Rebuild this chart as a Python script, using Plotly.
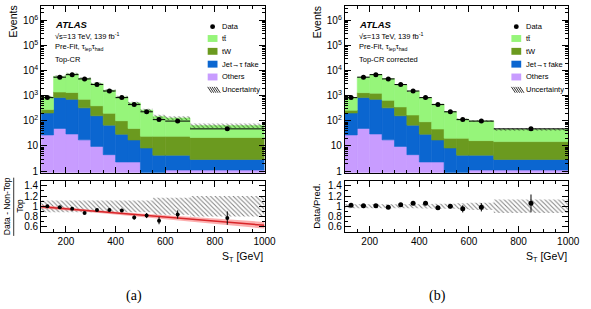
import numpy as np
import plotly.graph_objects as go

W, H = 591, 309

# ---------------- data ----------------
bin_edges = [100, 150, 200, 250, 300, 350, 400, 450, 500, 550, 600, 700, 1000]
data_counts = [845, 5500, 6950, 4700, 2800, 1550, 845, 445, 230, 112, 98, 48]
data_err = [29, 74, 83, 69, 53, 39, 29, 21, 15, 11, 10, 7]
others = [27.5, 50, 30, 17.5, 9.6, 4.5, 2.3, 2.3, 0.8, 0.8, 1.1, 1.1]
fake = [178, 795, 690, 312, 150, 63, 27, 15, 7.5, 3.5, 3.2, 1.8]
tw_prefit = [75, 565, 630, 390, 240, 132, 72, 32, 16, 20, 20, 19]
tt_prefit = [620, 4490, 6050, 4180, 2600, 1440, 798, 470, 246, 126, 106, 43]
tw_corr = [60, 485, 550, 330, 200, 104, 63, 30, 12, 16, 12, 12]
tt_corr = [560, 4120, 5630, 4090, 2370, 1328, 717, 413, 210, 96, 83, 31]
unc_prefit = [0.115, 0.115, 0.115, 0.115, 0.115, 0.115, 0.115, 0.115, 0.115, 0.165, 0.165, 0.2]
unc_corr = [0.04, 0.04, 0.04, 0.04, 0.04, 0.04, 0.045, 0.05, 0.05, 0.06, 0.07, 0.13]

ratio_a = [1.0, 0.98, 0.95, 0.87, 0.93, 0.93, 0.92, 0.78, 0.82, 0.72, 0.84, 0.77]
ratio_a_err = [0.02, 0.015, 0.015, 0.02, 0.02, 0.03, 0.03, 0.04, 0.05, 0.07, 0.08, 0.13]
ratio_b = [1.02, 1.01, 1.01, 0.98, 1.03, 1.06, 1.06, 0.97, 1.0, 0.95, 0.98, 1.06]
ratio_b_err = [0.015, 0.01, 0.01, 0.01, 0.015, 0.02, 0.025, 0.03, 0.04, 0.07, 0.08, 0.17]

fit_x = [100, 300, 500, 700, 1000]
fit_y = [0.99, 0.91, 0.83, 0.75, 0.63]
fit_err = [0.035, 0.025, 0.03, 0.045, 0.065]

# ---------------- styling ----------------
C_TT = "#96f57a"
C_TW = "#6b9a1f"
C_FAKE = "#0b66d0"
C_OTH = "#c89cff"
FONT = "Liberation Sans"

edges = np.array(bin_edges, dtype=float)
centers = 0.5 * (edges[:-1] + edges[1:])
widths = edges[1:] - edges[:-1]
halfw = widths / 2


def px(x):
    return x / W


def py(y):
    return 1 - y / H


fig = go.Figure()

panels = [
    dict(xa="x", ya="y", xr="x2", yr="y2", tt=tt_prefit, tw=tw_prefit, unc=unc_prefit, ox=0),
    dict(xa="x3", ya="y3", xr="x4", yr="y4", tt=tt_corr, tw=tw_corr, unc=unc_corr, ox=310),
]

HATCH = dict(shape="\\", fgcolor="black", bgcolor="rgba(0,0,0,0)", size=3.2, solidity=0.3)

for p in panels:
    oth = np.array(others, float)
    fk = np.array(fake, float)
    tw = np.array(p["tw"], float)
    tt = np.array(p["tt"], float)
    b0 = np.full_like(oth, 1e-2)
    b1 = oth
    b2 = oth + fk
    b3 = oth + fk + tw
    total = b3 + tt
    comps = [(oth, b0, C_OTH), (fk, b1, C_FAKE), (tw, b2, C_TW), (tt, b3, C_TT)]
    for vals, base, col in comps:
        fig.add_trace(go.Bar(x=centers, y=vals, base=base, width=widths,
                             marker=dict(color=col, line=dict(width=0.6, color=col)),
                             xaxis=p["xa"], yaxis=p["ya"], showlegend=False))
    u = np.array(p["unc"], float)
    fig.add_trace(go.Bar(x=centers, y=2 * u * total, base=total * (1 - u), width=widths,
                         marker=dict(color="rgba(0,0,0,0)", line=dict(width=0), pattern=HATCH),
                         xaxis=p["xa"], yaxis=p["ya"], showlegend=False))
    fig.add_trace(go.Scatter(x=centers, y=data_counts, mode="markers",
                             marker=dict(color="black", size=5),
                             error_x=dict(type="data", array=halfw, thickness=1, width=0, color="black"),
                             error_y=dict(type="data", array=data_err, thickness=1, width=0, color="black"),
                             xaxis=p["xa"], yaxis=p["ya"], showlegend=False))
    # ratio hatched band
    fig.add_trace(go.Bar(x=centers, y=2 * u, base=1 - u, width=widths,
                         marker=dict(color="rgba(0,0,0,0)", line=dict(width=0), pattern=HATCH),
                         xaxis=p["xr"], yaxis=p["yr"], showlegend=False))

# ratio (a): fit band + line + points
fx = np.array(fit_x, float)
fy = np.array(fit_y, float)
fe = np.array(fit_err, float)
fig.add_trace(go.Scatter(x=np.concatenate([fx, fx[::-1]]), y=np.concatenate([fy + fe, (fy - fe)[::-1]]),
                         fill="toself", fillcolor="rgba(250,110,110,0.55)", line=dict(width=0),
                         mode="lines", xaxis="x2", yaxis="y2", showlegend=False, hoverinfo="skip"))
fig.add_trace(go.Scatter(x=fx, y=fy, mode="lines", line=dict(color="#d8262a", width=1.5),
                         xaxis="x2", yaxis="y2", showlegend=False))
fig.add_trace(go.Scatter(x=centers, y=ratio_a, mode="markers",
                         marker=dict(color="black", size=4),
                         error_y=dict(type="data", array=ratio_a_err, thickness=1, width=0, color="black"),
                         xaxis="x2", yaxis="y2", showlegend=False))
fig.add_trace(go.Scatter(x=centers, y=ratio_b, mode="markers",
                         marker=dict(color="black", size=5),
                         error_y=dict(type="data", array=ratio_b_err, thickness=1, width=0, color="black"),
                         xaxis="x4", yaxis="y4", showlegend=False))

# ---------------- axes ----------------
tickfont = dict(family=FONT, size=10, color="black")


def xaxis(dom, anchor, labels):
    return dict(domain=dom, anchor=anchor, range=[100, 1000], showline=True, linecolor="black",
                linewidth=1, mirror="allticks", ticks="inside", ticklen=6, tickcolor="black",
                tick0=0, dtick=200, showticklabels=labels, tickfont=tickfont,
                minor=dict(ticks="inside", ticklen=3, dtick=50, tickcolor="black"),
                showgrid=False, zeroline=False, fixedrange=True)


def yaxis_main(anchor):
    return dict(domain=[py(175), py(6)], anchor=anchor, type="log", range=[-0.067, 6.58],
                tickmode="array", tickvals=[1, 10, 100, 1e3, 1e4, 1e5, 1e6],
                ticktext=["1", "10", "10<sup>2</sup>", "10<sup>3</sup>", "10<sup>4</sup>",
                          "10<sup>5</sup>", "10<sup>6</sup>"],
                showline=True, linecolor="black", linewidth=1, mirror="allticks",
                ticks="inside", ticklen=6, tickcolor="black", tickfont=tickfont,
                minor=dict(ticks="inside", ticklen=3, dtick="D1", tickcolor="black"),
                showgrid=False, zeroline=False)


def yaxis_ratio(anchor):
    return dict(domain=[py(235), py(183)], anchor=anchor, range=[0.5, 1.5],
                tickmode="array", tickvals=[0.6, 0.8, 1.0, 1.2, 1.4],
                ticktext=["0.6", "0.8", "1", "1.2", "1.4"],
                showline=True, linecolor="black", linewidth=1, mirror="allticks",
                ticks="inside", ticklen=6, tickcolor="black", tickfont=tickfont,
                minor=dict(ticks="inside", ticklen=3, dtick=0.1, tickcolor="black"),
                showgrid=False, zeroline=False)


LX = [px(42), px(270)]
RX = [px(352), px(580)]

fig.update_layout(
    width=W, height=H, margin=dict(l=0, r=0, t=0, b=0),
    paper_bgcolor="white", plot_bgcolor="white", barmode="overlay",
    font=dict(family=FONT, color="black"),
    xaxis=xaxis(LX, "y", False), yaxis=yaxis_main("x"),
    xaxis2=xaxis(LX, "y2", True), yaxis2=yaxis_ratio("x2"),
    xaxis3=xaxis(RX, "y3", False), yaxis3=yaxis_main("x3"),
    xaxis4=xaxis(RX, "y4", True), yaxis4=yaxis_ratio("x4"),
)

ann = []
shapes = []


def text(x, y, s, size=7.5, anchor="left", angle=0, family=FONT):
    ann.append(dict(x=px(x), y=py(y), xref="paper", yref="paper", text=s, showarrow=False,
                    xanchor=anchor, yanchor="middle", textangle=angle,
                    font=dict(family=family, size=size, color="black")))


legend_items = [("tt\u0304", C_TT, 39), ("tW", C_TW, 52), ("Jet\u2192\u03c4 fake", C_FAKE, 65),
                ("Others", C_OTH, 78)]

for p, region in zip(panels, ["Top-CR", "Top-CR corrected"]):
    ox = p["ox"]
    text(54 + ox, 25, "<b><i>ATLAS</i></b>", size=9.5)
    text(54 + ox, 36, "\u221as=13 TeV, 139 fb<sup>-1</sup>", size=7.5)
    text(54 + ox, 48, "Pre-Fit, \u03c4<sub>lep</sub>\u03c4<sub>had</sub>", size=7.5)
    text(54 + ox, 60, region, size=7.5)
    # legend
    shapes.append(dict(type="circle", xref="paper", yref="paper", x0=px(214.5 + ox), x1=px(219.5 + ox),
                       y0=py(29.5), y1=py(24.5), fillcolor="black", line=dict(width=0)))
    text(225 + ox, 27, "Data")
    for lab, col, yy in legend_items:
        shapes.append(dict(type="rect", xref="paper", yref="paper", x0=px(212 + ox), x1=px(222 + ox),
                           y0=py(yy + 3.5), y1=py(yy - 3.5), fillcolor=col, line=dict(width=0)))
        text(225 + ox, yy, lab)
    yy = 91
    for k in range(5):
        x0 = 212 + ox + k * 2.2
        shapes.append(dict(type="line", xref="paper", yref="paper", x0=px(x0), x1=px(x0 + 4),
                           y0=py(yy - 3), y1=py(yy + 3), line=dict(color="black", width=0.8)))
    text(225 + ox, yy, "Uncertainty")
    # axis titles
    text(13 + ox, 22, "Events", size=10.5, anchor="center", angle=-90)
    text(248 + ox, 260, "S<sub>T</sub> [GeV]", size=10.5, anchor="center")

# ratio titles
text(7, 209, "Data - Non-Top", size=8.5, anchor="center", angle=-90)
text(21, 209, "Top", size=8.5, anchor="center", angle=-90)
shapes.append(dict(type="line", xref="paper", yref="paper", x0=px(14), x1=px(14), y0=py(180), y1=py(239),
                   line=dict(color="black", width=0.8)))
text(323, 209, "Data/Pred.", size=9.5, anchor="center", angle=-90)

text(137, 300, "(a)", size=14, anchor="center", family="Liberation Serif")
text(447, 300, "(b)", size=14, anchor="center", family="Liberation Serif")

fig.update_layout(annotations=ann, shapes=shapes)
fig.write_html("out.html")
